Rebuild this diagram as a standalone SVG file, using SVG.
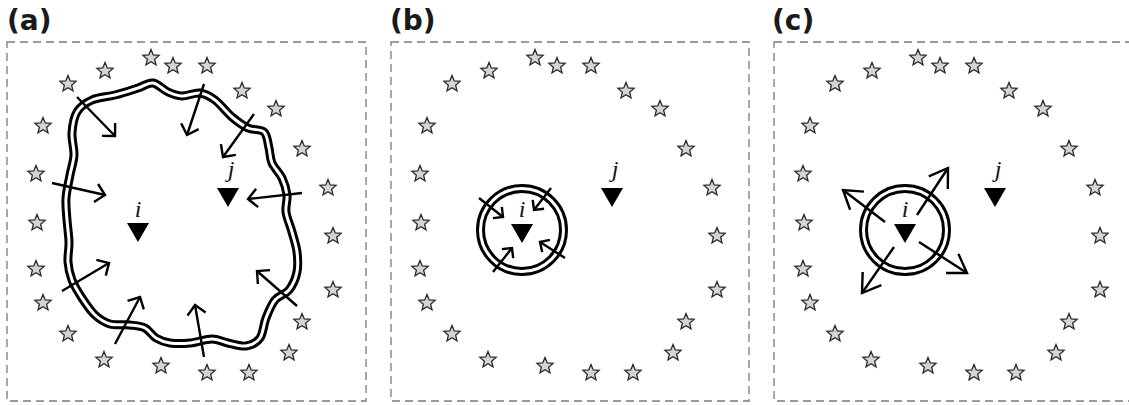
<svg xmlns="http://www.w3.org/2000/svg" xmlns:xlink="http://www.w3.org/1999/xlink" width="1129" height="405" viewBox="0 0 1129 405">
<style>
.frame{fill:none;stroke:#7a7a7a;stroke-width:1.3;stroke-dasharray:8 5}
.lbl{font-family:"DejaVu Sans",sans-serif;font-weight:bold;font-size:28px;fill:#1a1a1a}
.var{font-family:"Liberation Serif",serif;font-style:italic;font-size:24px;fill:#111;text-anchor:middle}
.star{fill:#d4d4d4;stroke:#2a2a2a;stroke-width:1.3;stroke-linejoin:miter}
.tri{fill:#000}
.dblo{fill:none;stroke:#000;stroke-width:9}
.dbli{fill:none;stroke:#fff;stroke-width:3}
.arr{fill:none;stroke:#000;stroke-width:2.4;stroke-linecap:butt}
.ah{fill:none;stroke:#000;stroke-width:2.4;stroke-linejoin:miter}
</style>
<defs>
<path id="st" class="star" d="M0,-8.5 L2.25,-3.09 L8.08,-2.62 L3.63,1.18 L5.0,6.88 L0,3.82 L-5.0,6.88 L-3.63,1.18 L-8.08,-2.62 L-2.25,-3.09 Z"/>
<path id="tr" class="tri" d="M-11,0 L11,0 L0,19 Z"/>
<marker id="mA" markerUnits="userSpaceOnUse" markerWidth="40" markerHeight="40" refX="0" refY="0" orient="auto" overflow="visible"><path class="ah" d="M-9.2,-9.2 L0,0 L-9.2,9.2"/></marker>
<marker id="mB" markerUnits="userSpaceOnUse" markerWidth="40" markerHeight="40" refX="0" refY="0" orient="auto" overflow="visible"><path class="ah" d="M-7.2,-7.2 L0,0 L-7.2,7.2"/></marker>
<marker id="mC" markerUnits="userSpaceOnUse" markerWidth="60" markerHeight="60" refX="0" refY="0" orient="auto" overflow="visible"><path class="ah" d="M-17.6,-11.4 L0,0 L-17.6,11.4"/></marker>
<g id="stars">
<use href="#st" x="68" y="84"/><use href="#st" x="105" y="71"/><use href="#st" x="151" y="58"/><use href="#st" x="173" y="66"/>
<use href="#st" x="207" y="66"/><use href="#st" x="242" y="91"/><use href="#st" x="276" y="109"/><use href="#st" x="302" y="149"/>
<use href="#st" x="328" y="188"/><use href="#st" x="333" y="236"/><use href="#st" x="333" y="290"/><use href="#st" x="302" y="322"/>
<use href="#st" x="289" y="353"/><use href="#st" x="249" y="373"/><use href="#st" x="207" y="373"/><use href="#st" x="161" y="366"/>
<use href="#st" x="104" y="360"/><use href="#st" x="68" y="334"/><use href="#st" x="43" y="303"/><use href="#st" x="36" y="269"/>
<use href="#st" x="37" y="223"/><use href="#st" x="36" y="174"/><use href="#st" x="43" y="126"/>
</g>
<path id="blob" d="M153,83 C158,83.7 163.2,89.8 168,92 S176.7,95.8 182,96 S194.5,92.3 200,93 S209.7,96 215,100 S226.5,112.3 232,117 S242.7,125.5 248,128 S260.5,128.7 264,132 S267.7,142.8 269,148 S269.8,158 272,163 S279.5,172.7 282,178 S286.3,189.3 287,195 S285.2,205.8 286,212 S290.2,225.3 292,232 S296.2,245.3 297,252 S298.3,265.7 297,272 S292.7,285.3 289,290 S278.8,295.3 275,300 S268.5,311.7 266,318 S263.3,333.3 260,338 S251.3,345.2 246,346 S233.7,344.2 228,343 S218.3,339 212,339 S197,342.3 190,343 S175.7,343.8 170,343 S160.2,340.5 156,338 S149.3,330.2 145,328 S135.8,325.7 130,325 S115.8,325.7 110,324 S99.7,319.3 95,315 S85.8,303.8 82,298 S74.3,286 72,280 S68.5,268.3 68,262 S69.2,249 69,242 S67.5,227.3 67,220 S65.5,205.5 66,198 S68.7,182.2 70,175 S73.7,162 74,155 S71.5,140.2 72,133 S73.7,117.5 77,112 S85.7,102.8 92,100 S107.3,97 115,95 S131.7,90 138,88 S148,82.3 153,83 Z"/>
</defs>

<g id="panel-a">
<text class="lbl" x="7" y="30">(a)</text>
<rect class="frame" x="7" y="42" width="359" height="359"/>
<g id="stars-a"><use href="#stars"/></g>
<g id="boundary-a"><use href="#blob" class="dblo"/><use href="#blob" class="dbli"/></g>
<g id="node-i-a"><use href="#tr" x="138" y="223"/><text class="var" x="138" y="217">i</text></g>
<g id="node-j-a"><use href="#tr" x="228" y="188"/><text class="var" x="231" y="177">j</text></g>
<g id="arrows-a" class="arr" marker-end="url(#mA)">
<line x1="77" y1="97" x2="115" y2="136"/>
<line x1="52" y1="183" x2="105" y2="195"/>
<line x1="204" y1="84" x2="187" y2="135"/>
<line x1="254" y1="114" x2="223" y2="157"/>
<line x1="302" y1="193" x2="248" y2="199"/>
<line x1="62" y1="291" x2="109" y2="263"/>
<line x1="115" y1="344" x2="140" y2="297"/>
<line x1="204" y1="357" x2="195" y2="305"/>
<line x1="297" y1="306" x2="257" y2="271"/>
</g>
</g>

<g id="panel-b">
<text class="lbl" x="390" y="30">(b)</text>
<rect class="frame" x="391" y="42" width="358" height="359"/>
<g transform="translate(384,0)">
<g id="stars-b"><use href="#stars"/></g>
<g id="ring-b"><circle class="dblo" cx="138" cy="230" r="41.5"/><circle class="dbli" cx="138" cy="230" r="41.5"/></g>
<g id="node-i-b"><use href="#tr" x="138" y="224"/><text class="var" x="138" y="217">i</text></g>
<g id="node-j-b"><use href="#tr" x="228" y="188"/><text class="var" x="231" y="177">j</text></g>
<g id="arrows-b" class="arr" marker-end="url(#mB)">
<line x1="95" y1="198" x2="119" y2="217"/>
<line x1="167" y1="188" x2="150" y2="210"/>
<line x1="109" y1="272" x2="128" y2="248"/>
<line x1="181" y1="258" x2="156" y2="242"/>
</g>
</g>
</g>

<g id="panel-c">
<text class="lbl" x="772" y="30">(c)</text>
<rect class="frame" x="774" y="42" width="359" height="359"/>
<g transform="translate(767,0)">
<g id="stars-c"><use href="#stars"/></g>
<g id="ring-c"><circle class="dblo" cx="138" cy="230" r="41.5"/><circle class="dbli" cx="138" cy="230" r="41.5"/></g>
<g id="node-i-c"><use href="#tr" x="138" y="224"/><text class="var" x="138" y="217">i</text></g>
<g id="node-j-c"><use href="#tr" x="228" y="188"/><text class="var" x="231" y="177">j</text></g>
<g id="arrows-c" class="arr" marker-end="url(#mC)">
<line x1="118" y1="222" x2="76" y2="190"/>
<line x1="150" y1="215" x2="181" y2="168"/>
<line x1="127" y1="247" x2="95" y2="293"/>
<line x1="152" y1="242" x2="200" y2="273"/>
</g>
</g>
</g>
</svg>
